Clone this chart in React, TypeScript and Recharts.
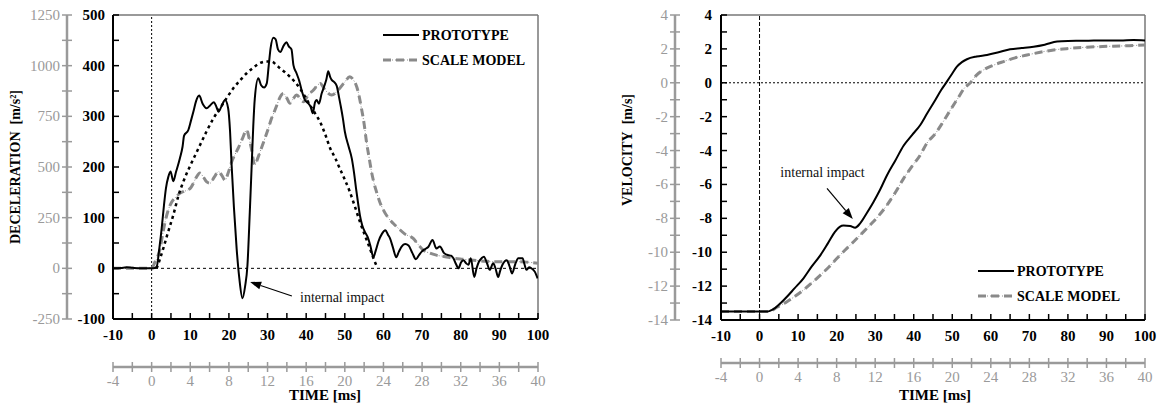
import React from "react";
import { LineChart, Line, XAxis, YAxis, ReferenceLine, ReferenceDot } from "recharts";

const FONT = '"Liberation Serif", "Times New Roman", serif';
const MODEL_GREY = "#8a8a8a";
const AXIS_GREY = "#9a9a9a";

// ---- deceleration plot (time in ms of the prototype) ----
const decProtoT = [-10, -8, -6.5, -5, -3, -1, 0.5, 1.3, 2, 2.6, 3.2, 3.7, 4.3, 4.9, 5.6, 6.3, 7.3, 8, 8.4, 9.5, 10.2, 10.8, 11.5, 12.3, 13.2, 14.2, 15.2, 16.1, 16.8, 17.3, 18.2, 19, 19.8, 20.3, 20.7, 21.3, 22, 22.7, 23.5, 24.2, 24.8, 25.4, 25.9, 26.3, 26.7, 27.6, 28.3, 29.1, 29.8, 30.3, 30.8, 31.5, 32.1, 32.7, 33.3, 34.2, 34.9, 35.5, 36.2, 36.7, 37.5, 38.2, 38.8, 39.7, 40.5, 41.2, 41.7, 42.3, 42.7, 43.3, 44, 44.6, 45.2, 45.7, 46.2, 46.6, 47.2, 47.9, 48.5, 48.9, 49.5, 50, 51, 51.8, 52.4, 52.9, 53.5, 53.9, 54.5, 55.2, 55.9, 56.6, 57.4, 58, 58.7, 59.6, 60.5, 61.2, 61.7, 62.5, 63.3, 64, 64.7, 65.6, 66.5, 67.5, 68.4, 69.2, 69.9, 70.8, 71.6, 72.7, 73.7, 74.6, 75.7, 76.8, 77.5, 78.1, 78.8, 79.4, 80.1, 80.7, 81.4, 82, 82.6, 83.5, 84.1, 84.7, 85.4, 86, 86.8, 87.5, 88.4, 89, 89.7, 90.2, 90.8, 91.9, 92.6, 93.3, 94.1, 94.9, 96, 96.5, 97, 97.7, 98.3, 99.2, 99.9];
const decProtoV = [0, 0.5, 2, 1, 0, 0, 0, 3, 40, 79, 125, 158, 180, 191, 172, 190, 217, 240, 262, 273, 292, 309, 330, 341, 325, 316, 322, 328, 318, 309, 322, 332, 316, 270, 204, 120, 39, -20, -59, -35, 6, 110, 204, 280, 335, 375, 362, 357, 365, 400, 435, 455, 452, 432, 427, 440, 446, 438, 432, 401, 385, 370, 352, 332, 326, 318, 306, 328, 332, 325, 345, 358, 372, 389, 378, 372, 368, 360, 338, 322, 296, 270, 240, 217, 188, 158, 125, 105, 85, 72, 62, 45, 22, 35, 53, 68, 75, 66, 59, 40, 22, 33, 43, 48, 45, 30, 18, 26, 33, 38, 42, 56, 39, 43, 30, 26, 25, 20, 8, 0, 12, 16, 10, 7, 20, -17, 0, 13, 20, 23, 10, -3, 10, 0, -17, -5, 7, 16, 5, -10, 8, 20, 20, 8, -3, 2, 0, -7, -20];

const decModelT = [-10, -5, 0, 0.9, 1.5, 2.2, 2.8, 3.5, 4.3, 5.2, 6.2, 7.3, 8.4, 9.5, 10.2, 10.8, 11.6, 12.5, 13.4, 14.2, 15.1, 16.2, 17.3, 18.2, 19, 19.8, 20.7, 21.6, 22.4, 23.5, 24.6, 25.2, 25.8, 26.7, 27.5, 28.4, 29.3, 30.2, 31, 31.8, 32.4, 33.2, 34.1, 35, 35.8, 36.6, 37.5, 38.4, 39.3, 40.5, 41.9, 42.8, 43.6, 44.9, 46.6, 48.3, 50, 51.3, 52.2, 53.1, 53.7, 54.3, 55, 55.6, 56.3, 56.9, 57.5, 58.2, 59, 60, 61.2, 62.5, 64, 65.5, 67.7, 69, 70.3, 72, 73.7, 76, 78.1, 80.5, 83.3, 86.5, 89.4, 92.5, 95.4, 97.5, 100];
const decModelV = [0, 0, 0, 13, 22, 39, 65, 92, 115, 131, 140, 148, 152, 155, 160, 168, 180, 188, 180, 171, 168, 180, 191, 183, 174, 188, 210, 225, 237, 256, 273, 258, 237, 204, 218, 237, 256, 276, 295, 310, 322, 337, 345, 336, 326, 334, 342, 336, 329, 342, 352, 360, 365, 352, 342, 352, 368, 378, 372, 358, 340, 316, 285, 250, 218, 191, 170, 151, 132, 115, 100, 89, 78, 68, 59, 47, 36, 30, 26, 23, 20, 18, 16, 14, 13, 13, 13, 12, 10];

const decFitT = [1.3, 2, 3, 4, 5.6, 7, 8.2, 10, 11.7, 14.2, 16, 17.7, 19.5, 21.1, 23, 24.6, 26.3, 28, 29.5, 31.1, 32.2, 33.2, 34.5, 35.8, 37.2, 38.4, 39.7, 41, 42.3, 43.6, 44.9, 46.2, 47.5, 48.7, 50, 51.3, 52.6, 53.9, 55.2, 56.5, 57.3, 58.1];
const decFitV = [0, 15, 39, 65, 105, 145, 171, 203, 230, 270, 296, 316, 337, 355, 372, 385, 396, 405, 408, 408, 402, 395, 387, 378, 367, 355, 339, 322, 306, 289, 265, 237, 218, 197, 175, 151, 122, 92, 65, 39, 22, 7];

// ---- velocity plot ----
const velProtoT = [-10, -5, 0, 2, 2.8, 4, 5.5, 7.1, 9, 11.4, 13.5, 15.8, 17.8, 19.6, 20.8, 21.8, 23.5, 24.8, 26.1, 27.8, 29.6, 31.3, 33.1, 35.2, 37.4, 39.5, 41.7, 43.5, 45.6, 47.2, 48.6, 50, 51.2, 52.5, 53.8, 56.3, 59, 62, 65, 68, 71.1, 74, 77.2, 80, 83, 86.7, 90, 93.6, 97, 100];
const velProtoV = [-13.5, -13.5, -13.5, -13.5, -13.45, -13.3, -13.0, -12.63, -12.15, -11.54, -10.85, -10.17, -9.45, -8.79, -8.5, -8.43, -8.45, -8.55, -8.3, -7.7, -7.02, -6.3, -5.44, -4.6, -3.7, -3.1, -2.49, -1.8, -1.02, -0.4, 0.07, 0.55, 0.95, 1.22, 1.39, 1.55, 1.64, 1.8, 1.98, 2.05, 2.13, 2.25, 2.43, 2.47, 2.48, 2.49, 2.5, 2.49, 2.52, 2.5];

const velModelT = [-10, 0, 2, 2.8, 4.5, 7.1, 9.2, 11.4, 13.6, 15.8, 18, 20.1, 22.2, 24.4, 26.5, 28.7, 30.9, 33.1, 35.3, 37.4, 39.5, 41.7, 43.4, 45.6, 47.5, 49.5, 51.5, 53.2, 54.7, 56.3, 58.1, 60.5, 63.3, 66.3, 69.4, 72.8, 76.3, 80.5, 84.9, 89, 93.6, 97, 100];
const velModelV = [-13.5, -13.5, -13.5, -13.48, -13.25, -12.92, -12.6, -12.23, -11.8, -11.35, -10.87, -10.36, -9.87, -9.38, -8.9, -8.39, -7.85, -7.21, -6.45, -5.64, -4.95, -4.26, -3.57, -3.0, -2.35, -1.61, -0.9, -0.3, 0, 0.45, 0.76, 1.02, 1.25, 1.47, 1.64, 1.8, 1.94, 2.03, 2.1, 2.14, 2.17, 2.2, 2.23];

// ---- ticks ----
const timeTicks = [-10, -5, 0, 5, 10, 15, 20, 25, 30, 35, 40, 45, 50, 55, 60, 65, 70, 75, 80, 85, 90, 95, 100];
const msTicks = [-4, -2, 0, 2, 4, 6, 8, 10, 12, 14, 16, 18, 20, 22, 24, 26, 28, 30, 32, 34, 36, 38, 40];
const decTicks = [-100, -50, 0, 50, 100, 150, 200, 250, 300, 350, 400, 450, 500];
const decTicksScaled = [-250, -125, 0, 125, 250, 375, 500, 625, 750, 875, 1000, 1125, 1250];
const velTicks = [-14, -13, -12, -11, -10, -9, -8, -7, -6, -5, -4, -3, -2, -1, 0, 1, 2, 3, 4];

const toPoints = (t: number[], v: number[]) => t.map((x, i) => ({ t: x, v: v[i] }));

const decProto = toPoints(decProtoT, decProtoV);
const decModel = toPoints(decModelT, decModelV);
const decFit = toPoints(decFitT, decFitV);
const velProto = toPoints(velProtoT, velProtoV);
const velModel = toPoints(velModelT, velModelV);

const LeftTick = (p: any) => {
  const { x, y, payload, every, color, bold, cross, gap } = p;
  const v = payload.value;
  return (
    <g>
      <line x1={cross ? x - 5 : x} x2={cross ? x + 5 : x + 6} y1={y} y2={y} stroke={color} strokeWidth={1.5} />
      {v % every === 0 && (
        <text x={x - gap} y={y + 5} textAnchor="end" fill={color} fontFamily={FONT} fontSize={15}
          fontWeight={bold ? "bold" : "normal"}>{v}</text>
      )}
    </g>
  );
};

const BottomTick = (p: any) => {
  const { x, y, payload, every, color, bold, cross, base } = p;
  const v = payload.value;
  return (
    <g>
      <line x1={x} x2={x} y1={cross ? y - 5 : y} y2={cross ? y + 5 : y - 6} stroke={color} strokeWidth={1.5} />
      {v % every === 0 && (
        <text x={x} y={y + base} textAnchor="middle" fill={color} fontFamily={FONT} fontSize={15}
          fontWeight={bold ? "bold" : "normal"}>{v}</text>
      )}
    </g>
  );
};

const Arrow = (p: any) => {
  const { x1, y1, x2, y2 } = p;
  const a = Math.atan2(y2 - y1, x2 - x1);
  const len = 11;
  const w = 4;
  const bx = x2 - len * Math.cos(a);
  const by = y2 - len * Math.sin(a);
  const nx = -Math.sin(a) * w;
  const ny = Math.cos(a) * w;
  return (
    <g>
      <line x1={x1} y1={y1} x2={bx} y2={by} stroke="#000" strokeWidth={1.2} />
      <polygon points={`${x2},${y2} ${bx + nx},${by + ny} ${bx - nx},${by - ny}`} fill="#000" />
    </g>
  );
};

const noteLabel = (props: any) => (
  <text x={props.viewBox.x} y={props.viewBox.y} fontFamily={FONT} fontSize={14} fill="#111">
    internal impact
  </text>
);

function Legend2({ x, y }: { x: number; y: number }) {
  return (
    <g fontFamily={FONT} fontSize={14} fontWeight="bold">
      <line x1={x} x2={x + 36} y1={y} y2={y} stroke="#000" strokeWidth={2} />
      <text x={x + 39} y={y + 5}>PROTOTYPE</text>
      <line x1={x} x2={x + 36} y1={y + 25} y2={y + 25} stroke={MODEL_GREY} strokeWidth={1} strokeDasharray="1 2" />
      <line x1={x} x2={x + 36} y1={y + 25} y2={y + 25} stroke={MODEL_GREY} strokeWidth={3} strokeDasharray="8 5" />
      <text x={x + 39} y={y + 30}>SCALE MODEL</text>
    </g>
  );
}

export default function App() {
  return (
    <div style={{ position: "absolute", left: 0, top: 0, width: 1157, height: 403, background: "#fff" }}>
      <div style={{ position: "absolute", left: 0, top: 0 }}>
        <LineChart width={570} height={403} margin={{ top: 15, right: 32, bottom: 2, left: 7 }}>
          <XAxis dataKey="t" type="number" domain={[-10, 100]} allowDataOverflow ticks={timeTicks} interval={0} height={48}
            axisLine={{ stroke: "#000", strokeWidth: 2 }} tickLine={false} tickSize={0} tickMargin={0}
            tick={(p: any) => <BottomTick {...p} every={10} color="#000" bold base={21} />} />
          <XAxis xAxisId="g" dataKey="t" type="number" domain={[-4, 40]} allowDataOverflow ticks={msTicks} interval={0} height={34}
            axisLine={{ stroke: AXIS_GREY, strokeWidth: 2.5 }} tickLine={false} tickSize={0} tickMargin={0}
            tick={(p: any) => <BottomTick {...p} every={4} color={AXIS_GREY} cross base={19} />} />
          <YAxis type="number" domain={[-100, 500]} allowDataOverflow ticks={decTicks} interval={0} width={46}
            axisLine={{ stroke: "#000", strokeWidth: 2 }} tickLine={false} tickSize={0} tickMargin={0}
            tick={(p: any) => <LeftTick {...p} every={100} color="#000" bold gap={8} />} />
          <YAxis yAxisId="g" type="number" domain={[-250, 1250]} allowDataOverflow ticks={decTicksScaled} interval={0} width={60}
            axisLine={{ stroke: AXIS_GREY, strokeWidth: 2.5 }} tickLine={false} tickSize={0} tickMargin={0}
            tick={(p: any) => <LeftTick {...p} every={250} color={AXIS_GREY} cross gap={7} />} />

          <ReferenceLine y={500} stroke="#777" strokeWidth={1.5} />
          <ReferenceLine x={100} stroke="#777" strokeWidth={1.5} />
          <ReferenceLine x={0} stroke="#000" strokeWidth={1} strokeDasharray="2 2" />
          <ReferenceLine y={0} stroke="#000" strokeWidth={1} strokeDasharray="3 3" />

          <Line data={decModel} dataKey="v" type="monotone" stroke={MODEL_GREY} strokeWidth={1}
            strokeDasharray="1 2" dot={false} isAnimationActive={false} />
          <Line data={decModel} dataKey="v" type="monotone" stroke={MODEL_GREY} strokeWidth={3}
            strokeDasharray="8 5" dot={false} isAnimationActive={false} />
          <Line data={decFit} dataKey="v" type="monotone" stroke="#000" strokeWidth={2.5}
            strokeDasharray="3 3.5" dot={false} isAnimationActive={false} />
          <Line data={decProto} dataKey="v" type="monotone" stroke="#000" strokeWidth={2}
            dot={false} isAnimationActive={false} />

          <ReferenceLine segment={[{ x: 36.3, y: -54.7 }, { x: 25.5, y: -27 }]} shape={Arrow} />
          <ReferenceDot x={38.4} y={-66.5} r={0} fill="none" stroke="none" label={noteLabel} />
        </LineChart>
      </div>

      <div style={{ position: "absolute", left: 570, top: 0 }}>
        <LineChart width={587} height={403} margin={{ top: 15, right: 12, bottom: 2, left: 5 }}>
          <XAxis dataKey="t" type="number" domain={[-10, 100]} allowDataOverflow ticks={timeTicks} interval={0} height={43}
            axisLine={{ stroke: "#000", strokeWidth: 2 }} tickLine={false} tickSize={0} tickMargin={0}
            tick={(p: any) => <BottomTick {...p} every={10} color="#000" bold base={21} />} />
          <XAxis xAxisId="g" dataKey="t" type="number" domain={[-4, 40]} allowDataOverflow ticks={msTicks} interval={0} height={38}
            axisLine={{ stroke: AXIS_GREY, strokeWidth: 2.5 }} tickLine={false} tickSize={0} tickMargin={0}
            tick={(p: any) => <BottomTick {...p} every={4} color={AXIS_GREY} cross base={19} />} />
          <YAxis type="number" domain={[-14, 4]} allowDataOverflow ticks={velTicks} interval={0} width={46}
            axisLine={{ stroke: "#000", strokeWidth: 2 }} tickLine={false} tickSize={0} tickMargin={0}
            tick={(p: any) => <LeftTick {...p} every={2} color="#000" bold gap={9} />} />
          <YAxis yAxisId="g" type="number" domain={[-14, 4]} allowDataOverflow ticks={velTicks} interval={0} width={100}
            axisLine={{ stroke: AXIS_GREY, strokeWidth: 2.5 }} tickLine={false} tickSize={0} tickMargin={0}
            tick={(p: any) => <LeftTick {...p} every={2} color={AXIS_GREY} cross gap={7} />} />

          <ReferenceLine y={4} stroke="#777" strokeWidth={1.5} />
          <ReferenceLine x={100} stroke="#777" strokeWidth={1.5} />
          <ReferenceLine x={0} stroke="#000" strokeWidth={1} strokeDasharray="4 2" />
          <ReferenceLine y={0} stroke="#000" strokeWidth={1} strokeDasharray="2 2" />

          <Line data={velModel} dataKey="v" type="monotone" stroke={MODEL_GREY} strokeWidth={1}
            strokeDasharray="1 2" dot={false} isAnimationActive={false} />
          <Line data={velModel} dataKey="v" type="monotone" stroke={MODEL_GREY} strokeWidth={3}
            strokeDasharray="8 5" dot={false} isAnimationActive={false} />
          <Line data={velProto} dataKey="v" type="monotone" stroke="#000" strokeWidth={2}
            dot={false} isAnimationActive={false} />

          <ReferenceLine segment={[{ x: 17.5, y: -6.23 }, { x: 24.2, y: -8.04 }]} shape={Arrow} />
          <ReferenceDot x={5.4} y={-5.54} r={0} fill="none" stroke="none" label={noteLabel} />
        </LineChart>
      </div>

      <svg width={1157} height={403} style={{ position: "absolute", left: 0, top: 0, pointerEvents: "none" }}>
        <g fontFamily={FONT} fontSize={14} fontWeight="bold" fill="#000">
          <text transform="translate(20,167) rotate(-90)" textAnchor="middle">{"DECELERATION\u00a0 [m/s\u00b2]"}</text>
          <text transform="translate(632,150) rotate(-90)" textAnchor="middle">{"VELOCITY\u00a0 [m/s]"}</text>
          <text x={325} y={400} textAnchor="middle" fontSize={15}>TIME [ms]</text>
          <text x={935} y={400} textAnchor="middle" fontSize={15}>TIME [ms]</text>
        </g>
        <Legend2 x={383} y={35} />
        <Legend2 x={978} y={271} />
      </svg>
    </div>
  );
}
